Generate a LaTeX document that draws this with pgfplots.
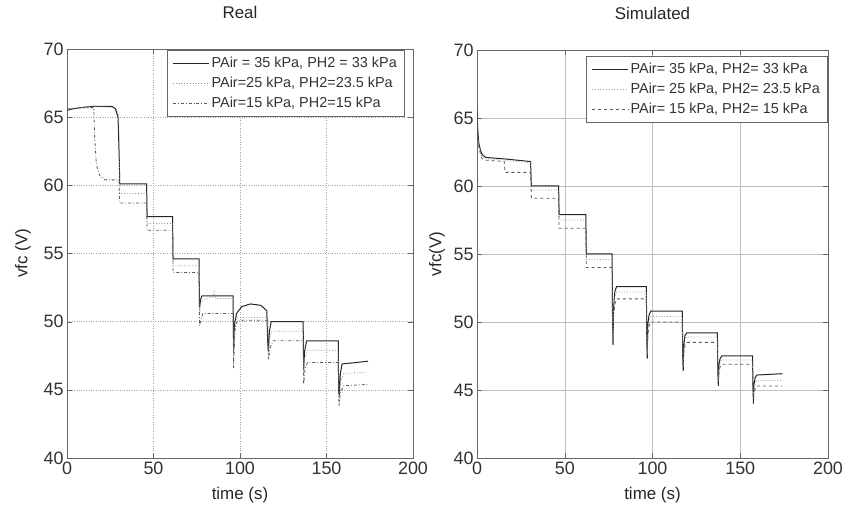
\documentclass[border=0pt]{standalone}
\usepackage{pgfplots}
\pgfplotsset{compat=1.18}
\usepackage{fontspec}
\setmainfont{Liberation Sans}

\pgfplotstableread{
x y
0 65.5
3 65.6
8 65.7
15 65.8
20 65.8
26 65.8
28 65.6
29.5 65.0
30.2 62
30.5 60.1
46 60.1
46.3 57.7
61 57.7
61.3 54.6
76.3 54.6
76.6 51.0
77.2 51.6
78 51.9
96 51.9
96.3 48.0
96.8 49.8
98 50.6
101 51.1
106 51.3
112 51.2
115.5 50.8
116 48.5
116.4 47.8
117 49.3
118 50.0
136.5 50.0
136.8 46.5
137.3 47.8
138.5 48.6
156.8 48.6
157 45
157.4 44.6
158 46.2
159 46.9
167 47.0
174 47.1
}\realA

\pgfplotstableread{
x y
0 65.6
15 65.8
28 65.7
30 65.2
30.5 59.4
46 59.4
46.3 57.2
61 57.2
61.3 54.1
76.3 54.1
76.6 50.5
77.5 51.4
80 51.7
84 51.8
85 52.2
86 51.7
96 51.7
96.3 47.2
97 49.5
98.5 50.3
116 50.3
116.4 47.5
117.2 48.8
118.5 49.3
136.5 49.3
136.8 46.0
137.5 47.3
139 47.9
156.8 47.9
157.2 44.3
158 45.6
160 46.2
174 46.3
}\realB

\pgfplotstableread{
x y
0 65.6
10 65.7
15.5 65.7
16 63.5
17 61.5
19 60.7
22 60.4
30 60.4
30.5 58.7
46 58.7
46.3 56.7
61 56.7
61.3 53.6
76.3 53.6
76.6 49.7
77.3 50.1
78.5 50.6
96 50.6
96.3 46.6
97 49.3
98.5 50.1
116 50.1
116.4 47.2
117.3 48.0
119 48.6
136.5 48.6
136.8 45.4
137.6 46.5
139 47.0
156.8 47.0
157.2 43.8
158 44.8
160 45.3
174 45.4
}\realC

\pgfplotstableread{
x y
0 65.5
0.5 64.0
1 63.2
2 62.6
3 62.3
5 62.1
15 62.0
30.5 61.8
31 60.0
46.5 60.0
46.8 57.9
62 57.9
62.3 55.0
77 55.0
77.2 50.5
77.5 48.3
77.8 51.0
78.5 52.2
79.5 52.6
96.5 52.6
96.7 49.0
97 47.3
97.3 49.8
98 50.5
99 50.8
117 50.8
117.2 47.5
117.5 46.4
117.8 48.2
118.5 49.0
119.5 49.2
137 49.2
137.2 46.5
137.5 45.3
137.8 46.8
138.5 47.3
139.5 47.5
157 47.5
157.2 45.5
157.5 44.0
157.8 45.4
158.5 45.9
159.5 46.1
174 46.2
}\simA

\pgfplotstableread{
x y
0 65.3
0.5 63.8
1 63.0
2 62.4
3 62.1
5 62.0
15 61.9
30.5 61.7
31 59.7
46.5 59.7
46.8 57.5
62 57.5
62.3 54.6
77 54.6
77.2 50.3
77.5 48.6
77.8 50.8
78.5 51.8
79.5 52.2
96.5 52.2
96.7 48.8
97 47.6
97.3 49.4
98 50.1
99 50.4
117 50.4
117.2 47.3
117.5 46.7
117.8 48.0
118.5 48.7
119.5 48.9
137 48.9
137.2 46.3
137.5 45.6
137.8 46.5
138.5 47.0
139.5 47.2
157 47.2
157.2 45.3
157.5 44.4
157.8 45.1
158.5 45.5
159.5 45.7
174 45.7
}\simB

\pgfplotstableread{
x y
0 65.2
0.5 63.7
1 62.9
2 62.3
3 62.0
5 61.9
15.5 61.8
16 61.0
30.5 61.0
31 59.1
46.5 59.1
46.8 56.9
62 56.9
62.3 54.0
77 54.0
77.2 50.0
77.5 48.8
77.8 50.4
78.5 51.3
79.5 51.7
96.5 51.7
96.7 48.5
97 47.8
97.3 49.0
98 49.7
99 50.0
117 50.0
117.2 47.0
117.5 46.9
117.8 47.7
118.5 48.3
119.5 48.5
137 48.5
137.2 46.0
137.5 45.8
137.8 46.2
138.5 46.7
139.5 46.9
157 46.9
157.2 45.0
157.5 44.6
157.8 44.8
158.5 45.1
159.5 45.3
174 45.3
}\simC

\begin{document}
\begin{tikzpicture}
\path[use as bounding box] (0bp,0bp) rectangle (848bp,507bp);
\pgfplotsset{
  every axis/.append style={
    scale only axis,
    xmin=0, xmax=200, ymin=40, ymax=70,
    xtick={0,50,...,200}, ytick={40,45,...,70},
    tick label style={font=\fontsize{18}{18}\selectfont, black!80},
    /pgf/number format/assume math mode=true,
    axis line style={black!60},
    tick style={black!60},
    major tick length=5bp,
    label style={font=\fontsize{17}{17}\selectfont, black!85},
    title style={font=\fontsize{17}{17}\selectfont, black!85, at={(0.5,1)}, anchor=base, yshift=25bp},
    xlabel style={at={(0.5,0)}, anchor=base, yshift=-41bp},
    grid=major,
    legend cell align=left,
    legend image code/.code={\draw[#1] (0bp,0bp) -- (36bp,0bp);},
    legend style={font=\fontsize{14.5}{14.5}\selectfont, draw=black!60, fill=white,
      row sep=4bp, inner xsep=5bp, inner ysep=5bp, text=black!80},
  }
}
\begin{axis}[at={(67bp,49bp)}, anchor=south west, width=346bp, height=409bp,
  title={Real}, xlabel={time (s)}, ylabel={vfc (V)},
  ylabel style={at={(axis description cs:-0.127,0.5)}, anchor=center},
  major grid style={black!35, dotted},
  legend style={at={(1,1)}, anchor=north east, xshift=-9bp, yshift=-1bp}]
\addplot[black!85, line width=1bp] table {\realA};
\addlegendentry{PAir = 35 kPa, PH2 = 33 kPa}
\addplot[black!45, line width=0.8bp, dotted] table {\realB};
\addlegendentry{PAir=25 kPa, PH2=23.5 kPa}
\addplot[black!65, line width=0.8bp, dash dot] table {\realC};
\addlegendentry{PAir=15 kPa, PH2=15 kPa}
\end{axis}

\begin{axis}[at={(477bp,49bp)}, anchor=south west, width=351bp, height=408bp,
  title={Simulated}, xlabel={time (s)}, ylabel={vfc(V)},
  ylabel style={at={(axis description cs:-0.114,0.5)}, anchor=center},
  major grid style={black!25, solid},
  legend style={at={(1,1)}, anchor=north east, xshift=-1bp, yshift=-6bp}]
\addplot[black!85, line width=1bp] table {\simA};
\addlegendentry{PAir= 35 kPa, PH2= 33 kPa}
\addplot[black!40, line width=0.8bp, dotted] table {\simB};
\addlegendentry{PAir= 25 kPa, PH2= 23.5 kPa}
\addplot[black!65, line width=0.8bp, dashed] table {\simC};
\addlegendentry{PAir= 15 kPa, PH2= 15 kPa}
\end{axis}
\end{tikzpicture}
\end{document}
